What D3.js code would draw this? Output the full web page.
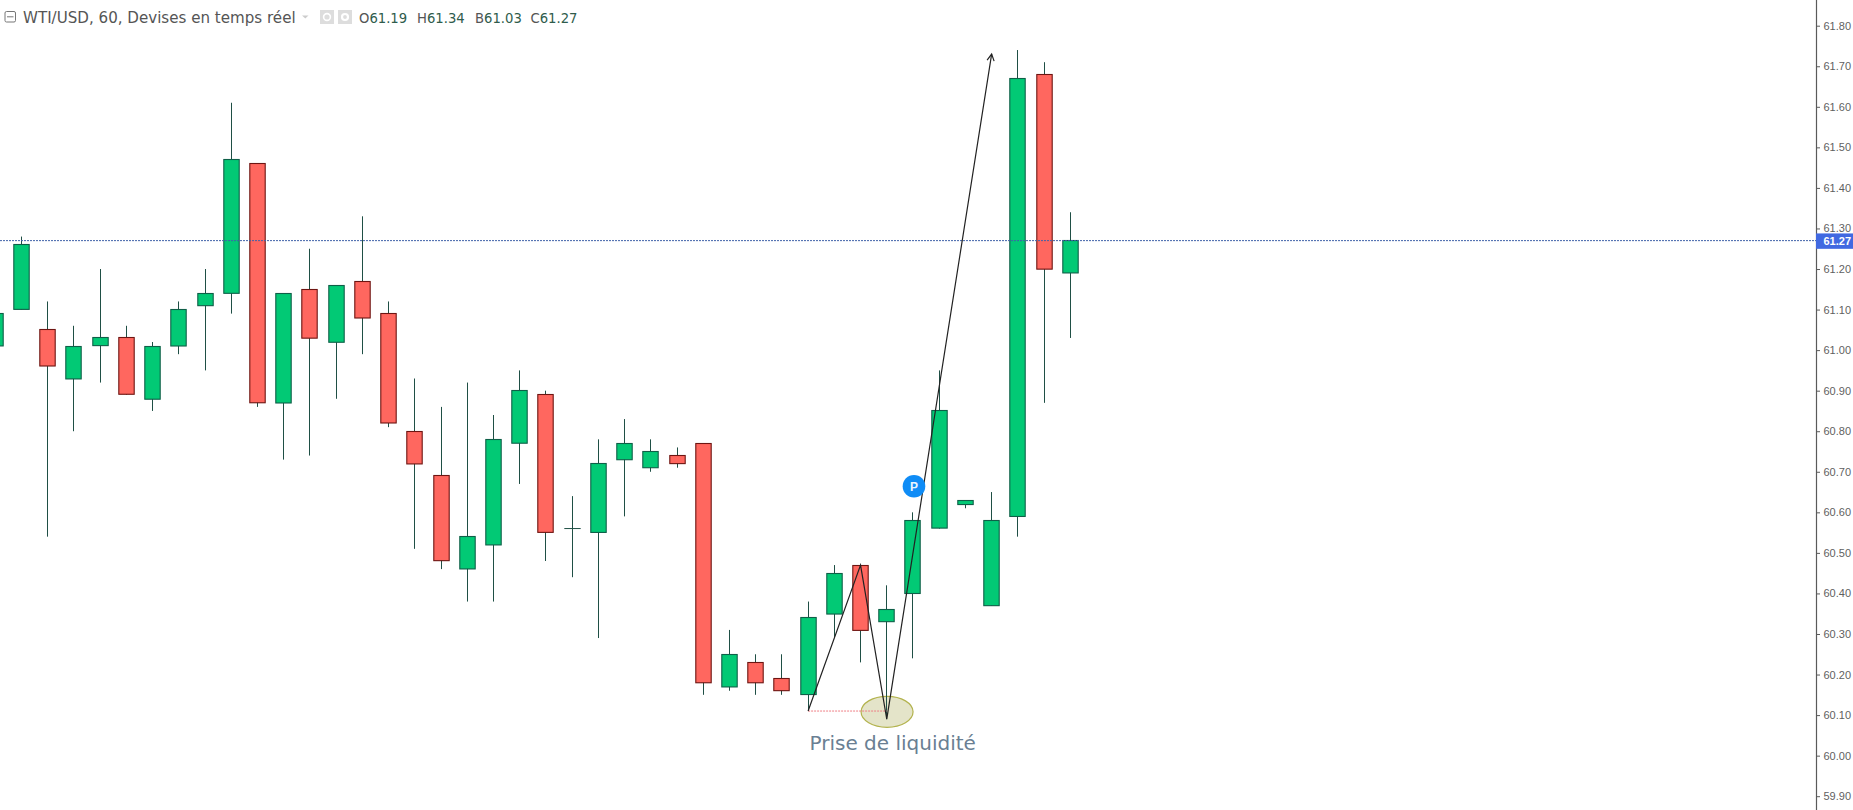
<!DOCTYPE html>
<html><head><meta charset="utf-8">
<script src="https://d3js.org/d3.v7.min.js"></script>
<style>html,body{margin:0;padding:0;background:#fff;overflow:hidden}svg{display:block}</style>
</head><body><svg id="c" width="1853" height="810"></svg>
<script>
const opens  = [61.01,61.10,61.05,60.93,61.01,61.03,60.88,61.01,61.11,61.14,61.46,60.87,61.15,61.02,61.17,61.09,60.80,60.69,60.46,60.52,60.77,60.89,60.56,60.55,60.73,60.71,60.74,60.77,60.17,60.23,60.19,60.15,60.35,60.47,60.33,60.40,60.56,60.62,60.37,60.59,61.68,61.19];
const closes = [61.09,61.26,60.96,61.01,61.03,60.89,61.01,61.10,61.14,61.47,60.87,61.14,61.03,61.16,61.08,60.82,60.72,60.48,60.54,60.78,60.90,60.55,60.56,60.72,60.77,60.75,60.72,60.18,60.25,60.18,60.16,60.34,60.45,60.31,60.36,60.58,60.85,60.63,60.58,61.67,61.20,61.27];
const highs  = [61.09,61.28,61.12,61.06,61.20,61.06,61.02,61.12,61.20,61.61,61.46,61.14,61.25,61.16,61.33,61.12,60.93,60.86,60.92,60.84,60.95,60.90,60.64,60.78,60.83,60.78,60.76,60.77,60.31,60.25,60.25,60.38,60.47,60.47,60.42,60.60,60.95,60.63,60.65,61.74,61.71,61.34];
const lows   = [61.01,61.10,60.54,60.80,60.92,60.89,60.85,60.99,60.95,61.09,60.86,60.73,60.74,60.88,60.99,60.81,60.51,60.46,60.38,60.38,60.67,60.48,60.44,60.29,60.59,60.70,60.71,60.15,60.16,60.15,60.15,60.11,60.29,60.23,60.09,60.24,60.56,60.61,60.37,60.54,60.87,61.03];
const priceTicks = [59.90,60.00,60.10,60.20,60.30,60.40,60.50,60.60,60.70,60.80,60.90,61.00,61.10,61.20,61.30,61.40,61.50,61.60,61.70,61.80];
const lastPrice = 61.27;
const arrowBars   = [31,33,34,38];
const arrowPrices = [60.11,60.47,60.09,61.73];
const levelBars   = [31,34];
const levelPrice  = 60.11;
const title = "WTI/USD, 60, Devises en temps réel";
const ohlcLabels = ["O","H","B","C"];
const ohlcValues = ["61.19","61.34","61.03","61.27"];

const svg = d3.select("#c");
const x = d3.scaleLinear().domain([0,41]).range([-4.7,1070.3]);
const y = d3.scaleLinear().domain([61.8,59.9]).range([25.7,796.2]);
const snap = v => Math.round(v-0.5)+0.5;
const cx = i => snap(x(i));
const bodyW = 15.4;

// liquidity ellipse (under the candles)
svg.append("ellipse").attr("cx",x(34)+0.3).attr("cy",y(60.108)).attr("rx",26).attr("ry",15.5)
  .attr("fill","#e4e4c9").attr("stroke","#b3b34e").attr("stroke-width",1.2);

// candles
const candles = svg.append("g").selectAll("g").data(opens.map((o,i)=>i)).join("g");
candles.append("line").attr("x1",cx).attr("x2",cx)
  .attr("y1",i=>y(highs[i])).attr("y2",i=>y(lows[i]))
  .attr("stroke","#1f4f45").attr("stroke-width",1);
candles.filter(i=>opens[i]!==closes[i]).append("rect")
  .attr("x",i=>cx(i)-bodyW/2).attr("width",bodyW)
  .attr("y",i=>snap(y(Math.max(opens[i],closes[i]))))
  .attr("height",i=>Math.abs(y(opens[i])-y(closes[i])))
  .attr("fill",i=>closes[i]>opens[i]?"#02c975":"#ff675f")
  .attr("stroke",i=>closes[i]>opens[i]?"#0f5f48":"#6e1512")
  .attr("stroke-width",1.1);
candles.filter(i=>opens[i]===closes[i]).append("line")
  .attr("x1",i=>cx(i)-bodyW/2-0.5).attr("x2",i=>cx(i)+bodyW/2+0.5)
  .attr("y1",i=>y(opens[i])).attr("y2",i=>y(opens[i]))
  .attr("stroke","#1f4f45").attr("stroke-width",1);

// last price line
svg.append("line").attr("x1",0).attr("x2",1816)
  .attr("y1",y(lastPrice)).attr("y2",y(lastPrice))
  .attr("stroke","#3f62a8").attr("stroke-width",1).attr("stroke-dasharray","2 1");

// level dotted
svg.append("line").attr("x1",x(levelBars[0])).attr("x2",x(levelBars[1]))
  .attr("y1",y(levelPrice)).attr("y2",y(levelPrice))
  .attr("stroke","#ee7f86").attr("stroke-width",1).attr("stroke-dasharray","2 1");

// zig-zag arrow
const pts = arrowBars.map((b,i)=>[x(b),y(arrowPrices[i])]);
svg.append("path").attr("d",d3.line()(pts)).attr("fill","none")
  .attr("stroke","#222").attr("stroke-width",1.2).attr("stroke-linejoin","miter");
const tip = pts[pts.length-1], prev = pts[pts.length-2];
const ang = Math.atan2(tip[1]-prev[1],tip[0]-prev[0]);
const head = [ang+2.65,ang-2.65].map(a=>[tip[0]+7.5*Math.cos(a),tip[1]+7.5*Math.sin(a)]);
svg.append("path").attr("d",d3.line()([head[0],tip,head[1]])).attr("fill","none")
  .attr("stroke","#222").attr("stroke-width",1.2);

// annotation text
svg.append("text").attr("x",809.5).attr("y",749.5).text("Prise de liquidité")
  .attr("font-family","DejaVu Sans").attr("font-size",20).attr("fill","#6a7f93");

// position marker
svg.append("circle").attr("cx",x(35)+1).attr("cy",486.3).attr("r",11.3).attr("fill","#0f8cf6");
svg.append("text").attr("x",x(35)+1).attr("y",490.5).attr("text-anchor","middle").text("P")
  .attr("font-family","Liberation Sans").attr("font-weight","bold").attr("font-size",12).attr("fill","#e8f4ff");

// price axis
const axis = d3.axisRight(y).tickValues(priceTicks).tickFormat(d3.format(".2f")).tickSize(3.5).tickPadding(3.5);
const ag = svg.append("g").attr("transform","translate(1816.5,0)").call(axis);
ag.select(".domain").attr("d","M0,0V810").attr("stroke","#5a5a5a").attr("stroke-width",1.2);
ag.selectAll(".tick line").attr("stroke","#5a5a5a");
ag.selectAll(".tick text").attr("font-family","Liberation Sans").attr("font-size",11).attr("fill","#5f5f5f");

// last price tag
svg.append("rect").attr("x",1816).attr("y",y(lastPrice)-7.2).attr("width",37).attr("height",15.4).attr("fill","#4169e1");
svg.append("text").attr("x",1823.5).attr("y",y(lastPrice)+4).text(d3.format(".2f")(lastPrice))
  .attr("font-family","Liberation Sans").attr("font-weight","bold").attr("font-size",11).attr("fill","#fff");

// header
const hdr = svg.append("g");
hdr.append("rect").attr("x",5).attr("y",11.5).attr("width",10.5).attr("height",10.5).attr("rx",1.5)
  .attr("fill","none").attr("stroke","#777");
hdr.append("line").attr("x1",7).attr("x2",13.5).attr("y1",16.8).attr("y2",16.8).attr("stroke","#777");
hdr.append("text").attr("x",23).attr("y",23).text(title)
  .attr("font-family","DejaVu Sans").attr("font-size",15.1).attr("fill","#555");
hdr.append("path").attr("d","M302,15.5h6.5l-3.2,3z").attr("fill","#ccc");
hdr.append("rect").attr("x",320).attr("y",10).attr("width",14).attr("height",14).attr("fill","#ddd");
hdr.append("circle").attr("cx",327).attr("cy",17).attr("r",3.4).attr("fill","none").attr("stroke","#fff").attr("stroke-width",1.6);
hdr.append("rect").attr("x",338).attr("y",10).attr("width",14).attr("height",14).attr("fill","#ddd");
hdr.append("circle").attr("cx",345).attr("cy",17).attr("r",3).attr("fill","none").attr("stroke","#fff").attr("stroke-width",2.2);
const ohlcX = [359,417,475,530.5];
ohlcLabels.forEach((l,i)=>{
  const t = hdr.append("text").attr("x",ohlcX[i]).attr("y",23)
    .attr("font-family","DejaVu Sans").attr("font-size",13.2).attr("fill","#555");
  t.append("tspan").text(l);
  t.append("tspan").attr("fill","#2f5c4c").text(ohlcValues[i]);
});
</script></body></html>
